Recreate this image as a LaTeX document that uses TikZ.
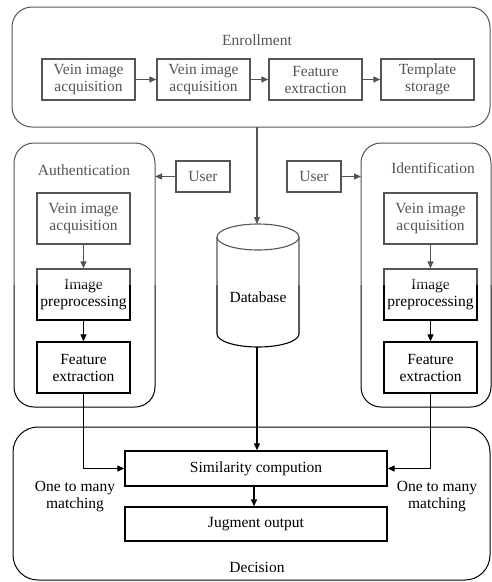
\documentclass[tikz,border=0pt]{standalone}
\usepackage{fontspec}
\setmainfont{Liberation Serif}
\usetikzlibrary{arrows.meta}

\begin{document}
\begin{tikzpicture}[x=1pt,y=-1pt,
  every node/.style={font=\fontsize{15.5}{17}\selectfont, align=center, inner sep=0pt},
  stepbox/.style={draw, line width=1.3pt, minimum width=93pt, minimum height=41pt},
  tallbox/.style={stepbox, minimum height=51pt},
  userbox/.style={draw, line width=1.1pt, minimum width=54pt, minimum height=31pt},
  widebox/.style={draw, line width=1.3pt, minimum width=262pt, minimum height=35pt},
  group/.style={draw, line width=1pt, rounded corners=20pt},
  link/.style={line width=1.1pt, -{Triangle[length=7pt,width=6pt]}},
  plain/.style={line width=1.1pt}]

\useasboundingbox (0,0) rectangle (492,582);

% containers
\draw[group] (12,7) rectangle (490,127);
\draw[group] (14,143) rectangle (155,407);
\draw[group] (361,143) rectangle (491,407);
\draw[group, rounded corners=25pt] (13,427) rectangle (490,580);

% enrollment
\node (enr) at (257,40) {Enrollment};
\node[stepbox] (e1) at (88.5,79.5) {Vein image\\acquisition};
\node[stepbox] (e2) at (203.5,79.5) {Vein image\\acquisition};
\node[stepbox] (e3) at (315.5,79.5) {Feature\\extraction};
\node[stepbox] (e4) at (427.5,79.5) {Template\\storage};
\draw[link] (e1) -- (e2);
\draw[link] (e2) -- (e3);
\draw[link] (e3) -- (e4);
\coordinate (enrbot) at (257,127);

% authentication
\node (auth) at (84,170) {Authentication};
\node[tallbox] (a1) at (83.5,218.5) {Vein image\\acquisition};
\node[tallbox] (a2) at (83.5,294.5) {Image\\preprocessing};
\node[tallbox] (a3) at (83.5,367.5) {Feature\\extraction};
\draw[link] (a1) -- (a2);
\draw[link] (a2) -- (a3);
\node[userbox] (u1) at (203,176.5) {User};
\coordinate (authedge) at (155,176.5);
\draw[link] (u1) -- (authedge);

% identification
\node (ident) at (433,168) {Identification};
\node[tallbox] (i1) at (430.5,218.5) {Vein image\\acquisition};
\node[tallbox] (i2) at (430.5,294.5) {Image\\preprocessing};
\node[tallbox] (i3) at (430.5,367.5) {Feature\\extraction};
\draw[link] (i1) -- (i2);
\draw[link] (i2) -- (i3);
\node[userbox] (u2) at (314,176.5) {User};
\coordinate (identedge) at (361,176.5);
\draw[link] (u2) -- (identedge);

% database cylinder
\draw[line width=1.1pt] (258,237) ellipse [x radius=41, y radius=13];
\draw[line width=1.1pt] (217,237) -- (217,334)
  arc[start angle=180, end angle=0, x radius=41, y radius=13] -- (299,237);
\node (db) at (258,297) {Database};
\coordinate (dbtop) at (257,224);
\coordinate (dbbot) at (257,347);
\draw[link] (enrbot) -- (dbtop);

% decision
\node[widebox] (sim) at (256,468.5) {Similarity compution};
\node[widebox, minimum height=34pt] (jud) at (256,524) {Jugment output};
\node (dec) at (257,567) {Decision};
\draw[link] (dbbot) -- (sim.north -| dbbot);
\draw[link] (sim.south -| 254,0) -- (jud.north -| 254,0);
\draw[link] (a3.south) |- (sim.west);
\draw[link] (i3.south) |- (sim.east);
\node (m1) at (75,497) {One to many\\matching};
\node (m2) at (437,497) {One to many\\matching};

% faded upper band
\fill[white, opacity=0.33] (0,0) rectangle (492,285);
\end{tikzpicture}
\end{document}
